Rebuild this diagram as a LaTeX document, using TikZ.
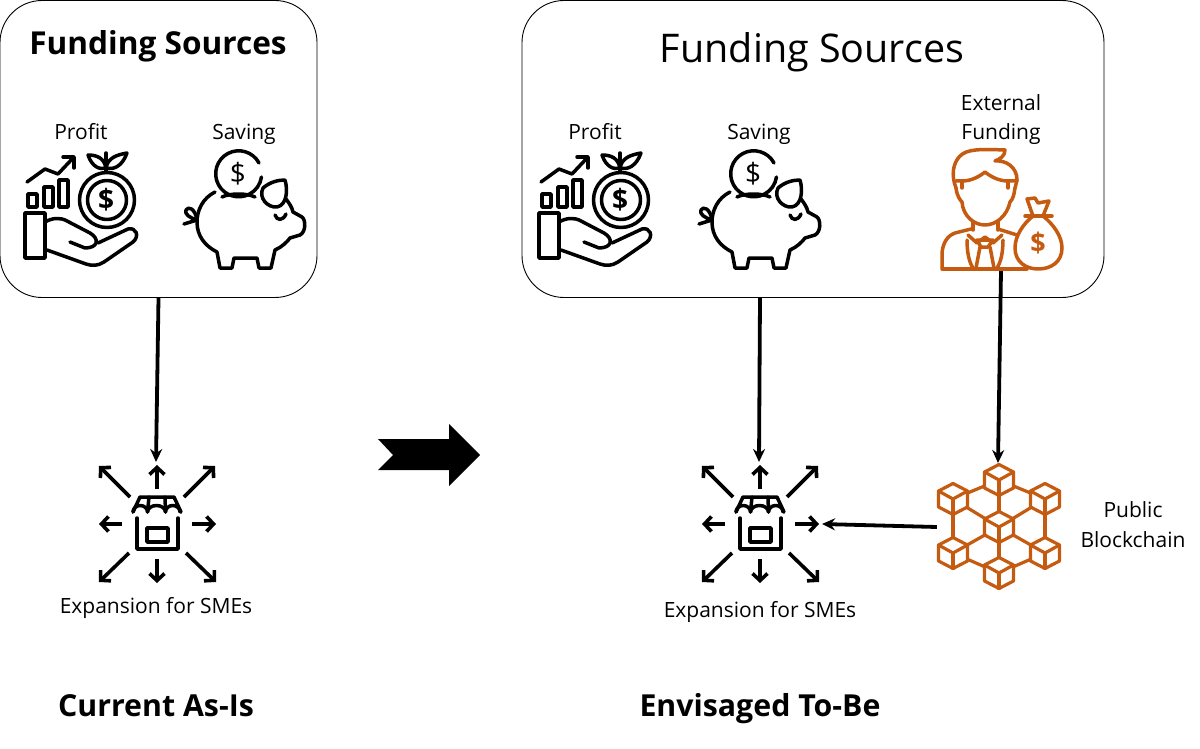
\documentclass[tikz,border=0pt]{standalone}
\usepackage{fontspec}
\setmainfont{Open Sans}
\usetikzlibrary{arrows.meta}
\definecolor{rust}{HTML}{C55A11}
\newcommand{\fsize}[1]{\fontsize{#1}{#1}\selectfont}
\tikzset{
  fundbox/.style={draw=black, line width=0.9pt, rounded corners=42pt, fill=none, inner sep=0pt},
  label/.style={inner sep=0pt, anchor=base, font=\fsize{21}},
  heading/.style={inner sep=0pt, anchor=base, font=\fsize{30.3}\bfseries},
  flow/.style={-{Stealth[length=13pt,width=12pt]}, line width=3.8pt, black},
  ray/.style={-{Straight Barb[length=7pt,width=15pt]}, line width=3.6pt, black},
  icon/.style={line width=3.5pt, line cap=round, line join=round, black},
  rusticon/.style={line width=3.5pt, line cap=round, line join=round, rust},
  hub/.style={circle, minimum size=31pt, inner sep=0pt},
  profit/.pic={
    \draw [icon] (25,213) rectangle (45,258);
    \draw [icon] (45,222) .. controls (52,218) and (60,217) .. (67,221) -- (90,233) .. controls (100,239) and (98,248) .. (85,248) -- (70,242);
    \draw [icon] (98,243) -- (128,229) .. controls (136,227) and (140,236) .. (133,242) -- (104,262) .. controls (98,266) and (92,266) .. (86,264) -- (47,250);
    \draw [icon] (28,194) rectangle (37,207);
    \draw [icon] (44,187) rectangle (53,207);
    \draw [icon] (59,180) rectangle (68,207);
    \draw [icon] (27,182) -- (45,169) -- (58,174) -- (74,157);
    \draw [icon] (63,157) -- (74,157) -- (74,168);
    \draw [icon] (107,200) circle (27.5);
    \draw [icon] (107,200) circle (19.5);
    \node [inner sep=0pt, font=\fsize{28}\bfseries] at (106,200) {\$};
    \draw [icon] (106,172) -- (106,153);
    \draw [icon] (88,155) .. controls (92,167) and (100,170) .. (106,168) .. controls (104,158) and (97,155) .. (88,155);
    \draw [icon] (127,153) .. controls (122,167) and (113,170) .. (106,168) .. controls (108,158) and (116,155) .. (127,153);
  },
  piggy/.pic={
    \draw [icon] (259,163) arc (-28:-360+8:23);
    \node [inner sep=0pt, font=\fsize{28}] at (238,174) {\$};
    \draw [icon] (222,197) .. controls (230,193) and (247,193) .. (255,197);
    \draw [icon] (215,192) .. controls (203,198) and (197,210) .. (197,222) .. controls (197,236) and (205,246) .. (217,252) -- (220,268) -- (232,268) -- (234,258) -- (257,258) -- (259,268) -- (271,268) -- (275,250) .. controls (282,247) and (287,242) .. (290,238) -- (300,235) .. controls (306,232) and (306,220) .. (302,217) -- (293,212) .. controls (292,207) and (289,203) .. (286,199);
    \draw [icon] (263,188) .. controls (270,182) and (278,180) .. (285,180) .. controls (288,190) and (287,205) .. (277,207) .. controls (268,208) and (258,198) .. (263,188);
    \draw [icon] (275,215) .. controls (277,221) and (283,221) .. (286,214);
    \draw [icon] (197,220) .. controls (195,208) and (188,206) .. (186,210) .. controls (184,214) and (190,218) .. (197,220) -- (184,224);
  },
  shop/.pic={
    \draw [ray] (157,489) -- (157,465);
    \draw [ray] (130,497) -- (99,466);
    \draw [ray] (184,497) -- (215,466);
    \draw [ray] (122,524) -- (99,524);
    \draw [ray] (192,524) -- (216,524);
    \draw [ray] (129,553) -- (99,582);
    \draw [ray] (157,559) -- (157,583);
    \draw [ray] (186,553) -- (216,582);
    \draw [icon] (137,518) -- (137,549) -- (178,549) -- (178,518);
    \draw [icon] (147,528) rectangle (168,542);
    \draw [icon] (133,512) -- (140,497) -- (174,497) -- (181,512);
    \draw [icon] (133,512) arc [start angle=180, end angle=360, x radius=7.25, y radius=6.5] arc [start angle=180, end angle=360, x radius=9, y radius=6.5] arc [start angle=180, end angle=360, x radius=7.25, y radius=6.5];
    \draw [icon] (149,497) -- (147.5,512);
    \draw [icon] (165,497) -- (165.5,512);
  },
  cube/.pic={
    \draw [rusticon, line width=3.2pt] (0,-15.5) -- (14.5,-8) -- (14.5,8) -- (0,15.5) -- (-14.5,8) -- (-14.5,-8) -- cycle;
    \draw [rusticon, line width=3.2pt] (-14.5,-8) -- (0,0) -- (14.5,-8);
    \draw [rusticon, line width=3.2pt] (0,0) -- (0,15.5);
  },
}
\begin{document}
\begin{tikzpicture}[x=1pt,y=-1pt]
\useasboundingbox (0,0) rectangle (1200,749);
\node (boxA) [fundbox, minimum width=317pt, minimum height=297pt] at (158.5,149) {};
\node (boxB) [fundbox, minimum width=582pt, minimum height=297pt] at (813,149) {};
\node (titleA) [heading, font=\fsize{31.6}\bfseries] at (158,55) {Funding Sources};
\node (titleB) [inner sep=0pt, anchor=base, font=\fsize{39.5}] at (812,63) {Funding Sources};
\node (profitA) [label] at (81,140) {Profit};
\node (savingA) [label] at (244,140) {Saving};
\node (profitB) [label] at (595,140) {Profit};
\node (savingB) [label] at (759,140) {Saving};
\node (extLabelA) [label] at (1001,111) {External};
\node (extLabelB) [label] at (1001,140) {Funding};
\pic at (0,0) {profit};
\pic at (0,0) {piggy};
\pic at (514,0) {profit};
\pic at (515,0) {piggy};
\pic at (0,0) {shop};
\pic at (603,0) {shop};
\node (expA) [label] at (156,613) {Expansion for SMEs};
\node (expB) [label] at (760,617) {Expansion for SMEs};
\node (chainLabelA) [label] at (1133,517) {Public};
\node (chainLabelB) [label] at (1133,547) {Blockchain};
\node (asis) [heading] at (156,716) {Current As-Is};
\node (tobe) [heading] at (760,716) {Envisaged To-Be};
% external funding
\node (extern) [minimum width=124pt, minimum height=2pt, inner sep=0pt] at (1001,270) {};
\draw [rusticon] (956,188) .. controls (951,175) and (953,163) .. (960,156) .. controls (967,149) and (980,149) .. (1005,150) .. controls (1005,156) and (1000,159) .. (995,161) .. controls (1006,160) and (1017,167) .. (1017,180) -- (1015,188);
\draw [rusticon] (956,181) -- (962,181) .. controls (972,181) and (980,176) .. (985,172) .. controls (990,176) and (998,181) .. (1008,181) -- (1017,181);
\draw [rusticon] (962,181) -- (962,188);
\draw [rusticon] (1008,181) -- (1008,188);
\draw [rusticon] (956,188) .. controls (957,196) and (960,200) .. (962,202) .. controls (963,216) and (974,225) .. (985,225) .. controls (996,225) and (1007,216) .. (1010,202) .. controls (1013,199) and (1014,195) .. (1015,188);
\draw [rusticon] (973,222) -- (973,230);
\draw [rusticon] (998,222) -- (998,230);
\draw [rusticon] (942,268) -- (942,253) .. controls (943,243) and (947,236) .. (955,233) -- (971,229);
\draw [rusticon] (942,269) -- (1027,269);
\draw [rusticon] (998,229) -- (1017,235);
\draw [rusticon] (968,235) -- (977,243) -- (985,237) -- (993,243) -- (1002,235);
\draw [rusticon] (977,240) -- (993,240) -- (988,247) -- (981,247) -- cycle;
\draw [rusticon] (980,247) -- (976,268);
\draw [rusticon] (990,247) -- (994,268);
\draw [rusticon] (967,240) .. controls (967,252) and (969,262) .. (973,268);
\draw [rusticon] (1003,240) .. controls (1003,252) and (1001,262) .. (997,268);
\draw [rusticon] (1025,216) -- (1052,216);
\draw [rusticon] (1033,216) -- (1027,199) -- (1035,198) -- (1038,203) -- (1049,201) -- (1043,216);
\draw [rusticon] (1033,216) .. controls (1023,224) and (1015,236) .. (1015,248) .. controls (1015,262) and (1026,269) .. (1038,269) .. controls (1051,269) and (1062,262) .. (1062,248) .. controls (1062,236) and (1053,224) .. (1043,216);
\node (extDollar) [inner sep=0pt, font=\fsize{27}\bfseries, text=rust] at (1038,243) {\$};
% blockchain
\node (hubT) [hub] at (999,480) {};
\node (hubUL) [hub] at (953,499) {};
\node (hubUR) [hub] at (1045,499) {};
\node (hubC) [hub] at (999,527) {};
\node (hubLL) [hub] at (953,553) {};
\node (hubLR) [hub] at (1045,553) {};
\node (hubB) [hub] at (999,573) {};
\foreach \n in {hubT,hubUL,hubUR,hubC,hubLL,hubLR,hubB} {
  \pic at (\n) {cube};
}
\foreach \a/\b in {hubUL/hubT,hubT/hubUR,hubUL/hubC,hubUR/hubC,hubT/hubC,hubUL/hubLL,hubUR/hubLR,hubLL/hubC,hubLR/hubC,hubLL/hubB,hubLR/hubB,hubC/hubB} {
  \draw [rusticon, line width=3.2pt] (\a) -- (\b);
}
\node (chain) [minimum width=124pt, minimum height=124pt, inner sep=0pt] at (999,527) {};
% flows
\coordinate (shopA) at (156,462);
\coordinate (shopB) at (759,462);
\coordinate (shopC) at (822,524);
\coordinate (fromSaving) at (760,298);
\coordinate (chainIn) at (998,463);
\draw [flow] (boxA.south) -- (shopA);
\draw [flow] (fromSaving) -- (shopB);
\draw [flow] (extern.south) -- (chainIn);
\draw [flow] (chain.west) -- (shopC);
\fill [black] (378,439) -- (449,439) -- (449,424) -- (480,455) -- (449,486) -- (449,470) -- (378,470) -- (393,455) -- cycle;
\end{tikzpicture}
\end{document}
